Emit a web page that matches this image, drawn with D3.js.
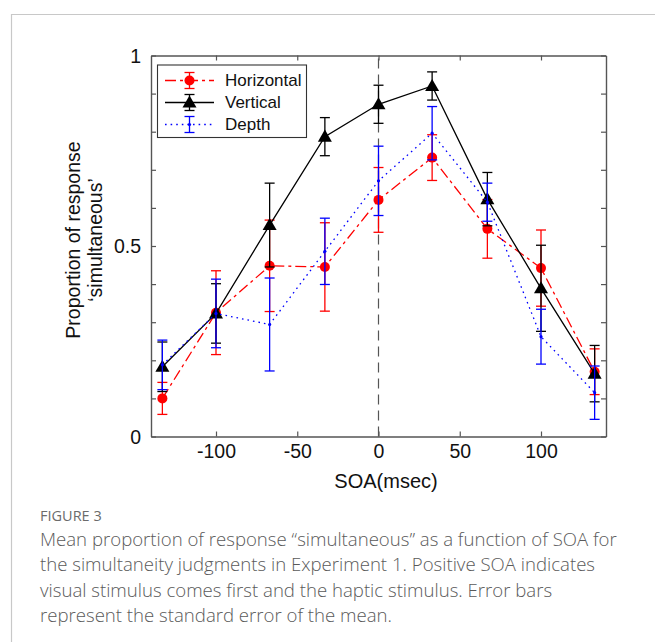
<!DOCTYPE html>
<html>
<head>
<meta charset="utf-8">
<script src="https://cdn.jsdelivr.net/npm/d3@7"></script>
<style>
html,body{margin:0;padding:0;background:#fff;}
svg{display:block;}
</style>
</head>
<body>
<svg id="chart" width="655" height="642"></svg>
<script>
const soa = [-133, -100, -67, -33, 0, 33, 67, 100, 133];
const horizontal    = [0.100, 0.325, 0.448, 0.445, 0.621, 0.732, 0.545, 0.442, 0.170];
const horizontalErr = [0.042, 0.110, 0.120, 0.116, 0.085, 0.060, 0.077, 0.100, 0.060];
const vertical      = [0.183, 0.323, 0.555, 0.787, 0.872, 0.920, 0.623, 0.389, 0.165];
const verticalErr   = [0.065, 0.078, 0.110, 0.050, 0.050, 0.037, 0.070, 0.113, 0.074];
const depth         = [0.188, 0.323, 0.294, 0.486, 0.671, 0.796, 0.615, 0.262, 0.115];
const depthErr      = [0.065, 0.090, 0.122, 0.087, 0.091, 0.070, 0.050, 0.072, 0.070];
const xTicks = [-100, -50, 0, 50, 100];
const yTicks = [0, 0.1, 0.2, 0.3, 0.4, 0.5, 0.6, 0.7, 0.8, 0.9, 1];
const yTickLabels = {0: "0", 0.5: "0.5", 1: "1"};
const seriesNames = ["Horizontal", "Vertical", "Depth"];
const xTitle = "SOA(msec)";
const yTitle = ["Proportion of response", "\u2018simultaneous\u2019"];
const figLabel = "FIGURE 3";
const caption = [
  "Mean proportion of response \u201csimultaneous\u201d as a function of SOA for",
  "the simultaneity judgments in Experiment 1. Positive SOA indicates",
  "visual stimulus comes first and the haptic stimulus. Error bars",
  "represent the standard error of the mean."
];

const svg = d3.select("#chart");
const L = 151, R = 606, T = 55.5, B = 436.5;
const x = d3.scaleLinear().domain([-140, 140]).range([L, R]);
const y = d3.scaleLinear().domain([0, 1]).range([B, T]);
const font = "Liberation Sans, Arial, sans-serif";
const axisColor = "#555";

// card border
svg.append("path").attr("d", `M11.5,642 V14.5 H655`).attr("fill", "none")
  .attr("stroke", "#c8c8c8").attr("stroke-width", 1.2);

// axes
const gx = svg.append("g").attr("transform", `translate(0,${B})`)
  .call(d3.axisBottom(x).tickValues(xTicks).tickSizeInner(-5).tickSizeOuter(0).tickPadding(8).tickFormat(d => d));
const gxt = svg.append("g").attr("transform", `translate(0,${T})`)
  .call(d3.axisTop(x).tickValues(xTicks).tickSizeInner(-5).tickSizeOuter(0).tickFormat(""));
const gy = svg.append("g").attr("transform", `translate(${L},0)`)
  .call(d3.axisLeft(y).tickValues(yTicks).tickSizeInner(-5).tickSizeOuter(0).tickPadding(10)
    .tickFormat(d => yTickLabels[Math.round(d * 10) / 10] ?? ""));
const gyr = svg.append("g").attr("transform", `translate(${R},0)`)
  .call(d3.axisRight(y).tickValues(yTicks).tickSizeInner(-5).tickSizeOuter(0).tickFormat(""));
[gx, gxt, gy, gyr].forEach(g => {
  g.select(".domain").attr("stroke", axisColor).attr("stroke-width", 1.4);
  g.selectAll(".tick line").attr("stroke", axisColor).attr("stroke-width", 1.2);
  g.selectAll(".tick text").attr("font-family", font).attr("font-size", 19.5).attr("fill", "#111");
});
gx.selectAll(".tick text").attr("dy", "0.71em");
gy.selectAll(".tick text").attr("dy", "0.34em");

// zero reference line
svg.append("line").attr("x1", x(0)).attr("x2", x(0)).attr("y1", y(0)).attr("y2", y(1))
  .attr("stroke", "#555").attr("stroke-width", 1.2).attr("stroke-dasharray", "10,6");

const series = [
  {name: seriesNames[0], vals: horizontal, err: horizontalErr, color: "#ff0000", dash: "11,4,3,4", marker: "circle"},
  {name: seriesNames[1], vals: vertical, err: verticalErr, color: "#000000", dash: null, marker: "triangle"},
  {name: seriesNames[2], vals: depth, err: depthErr, color: "#0000ff", dash: "1.6,4", marker: "dot"}
];
const line = d3.line().x(d => x(d[0])).y(d => y(d[1]));
const capW = 5;

function drawMarker(g, type, cx, cy, color) {
  if (type === "circle") {
    g.append("circle").attr("cx", cx).attr("cy", cy).attr("r", 5).attr("fill", color);
  } else if (type === "triangle") {
    g.append("path").attr("d", d3.symbol().type(d3.symbolTriangle).size(85)())
      .attr("transform", `translate(${cx},${cy + 1})`).attr("fill", color);
  } else {
    g.append("circle").attr("cx", cx).attr("cy", cy).attr("r", 1.6).attr("fill", color);
  }
}
function drawErr(g, cx, y1, y2, color) {
  g.append("line").attr("x1", cx).attr("x2", cx).attr("y1", y1).attr("y2", y2).attr("stroke", color).attr("stroke-width", 1.3);
  [y1, y2].forEach(yy => g.append("line").attr("x1", cx - capW).attr("x2", cx + capW)
    .attr("y1", yy).attr("y2", yy).attr("stroke", color).attr("stroke-width", 1.3));
}

series.forEach(s => {
  const g = svg.append("g");
  const pts = soa.map((v, i) => [v, s.vals[i]]);
  g.append("path").attr("d", line(pts)).attr("fill", "none").attr("stroke", s.color)
    .attr("stroke-width", 1.3).attr("stroke-dasharray", s.dash);
  soa.forEach((v, i) => {
    drawErr(g, x(v), y(s.vals[i] + s.err[i]), y(s.vals[i] - s.err[i]), s.color);
    drawMarker(g, s.marker, x(v), y(s.vals[i]), s.color);
  });
});

// legend
const lg = svg.append("g");
lg.append("rect").attr("x", 157.5).attr("y", 65).attr("width", 149).attr("height", 72.5)
  .attr("fill", "#fff").attr("stroke", "#333").attr("stroke-width", 1.1);
series.forEach((s, i) => {
  const ly = 80.5 + i * 22;
  lg.append("line").attr("x1", 165).attr("x2", 214).attr("y1", ly).attr("y2", ly)
    .attr("stroke", s.color).attr("stroke-width", 1.3).attr("stroke-dasharray", s.dash);
  drawErr(lg, 189.5, ly - 8, ly + 8, s.color);
  drawMarker(lg, s.marker, 189.5, ly, s.color);
  lg.append("text").attr("x", 225).attr("y", ly).attr("dy", "0.35em").attr("font-family", font)
    .attr("font-size", 17).attr("fill", "#111").text(s.name);
});

// axis titles
svg.append("text").attr("x", 386).attr("y", 481).attr("dy", "0.35em").attr("text-anchor", "middle")
  .attr("font-family", font).attr("font-size", 20).attr("fill", "#111").text(xTitle);
yTitle.forEach((t, i) => {
  svg.append("text").attr("transform", `translate(${73 + i * 22},240) rotate(-90)`)
    .attr("dy", "0.35em").attr("text-anchor", "middle").attr("font-family", font)
    .attr("font-size", 19.5).attr("fill", "#111").text(t);
});

// caption
svg.append("text").attr("x", 40).attr("y", 521).attr("font-family", "Open Sans, sans-serif")
  .attr("font-size", 14.5).attr("fill", "#6b6b6b").text(figLabel);
caption.forEach((t, i) => {
  svg.append("text").attr("x", 40).attr("y", 546 + i * 25.3).attr("font-family", "Open Sans, sans-serif")
    .attr("font-weight", 300).attr("font-size", 18.6).attr("fill", "#5a5a5a").text(t);
});
</script>
</body>
</html>
